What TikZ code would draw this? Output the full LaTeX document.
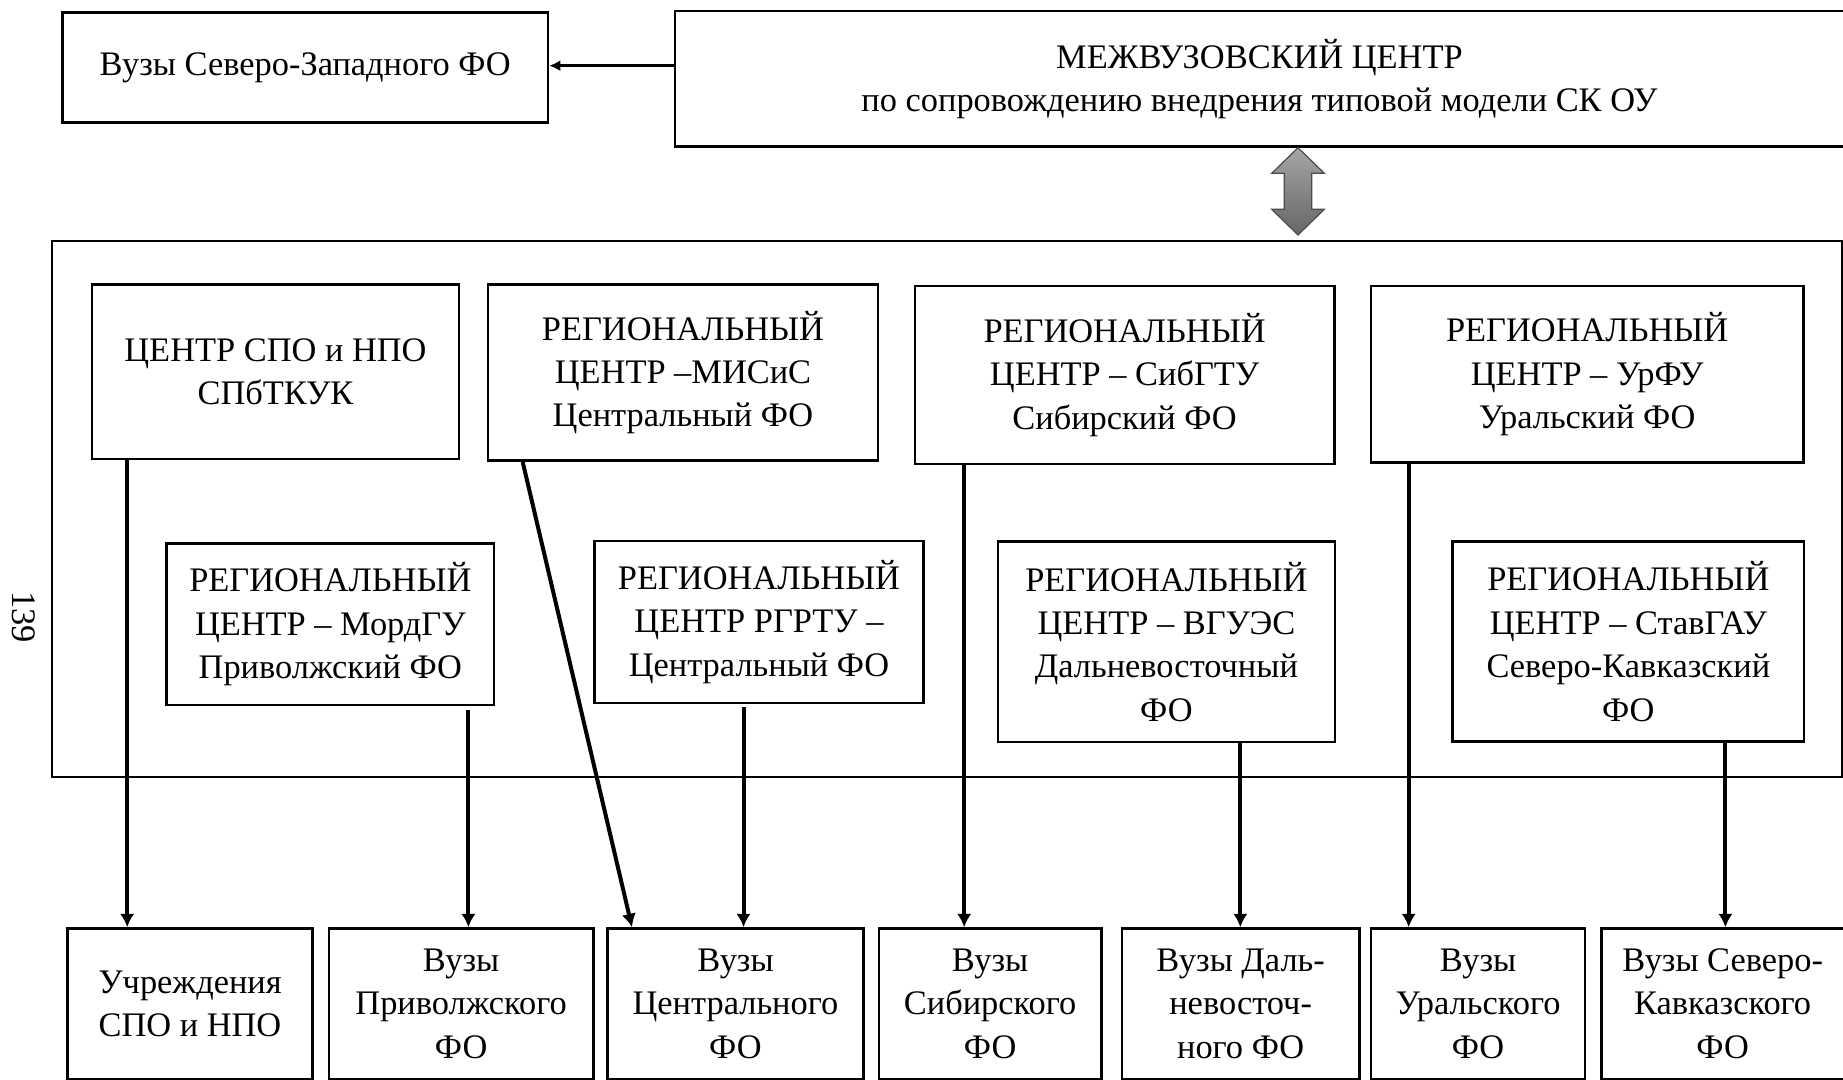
\documentclass[tikz,border=0pt]{standalone}
\usepackage{fontspec}
\setmainfont{Liberation Serif}
\usetikzlibrary{arrows.meta,calc}
\begin{document}
\begin{tikzpicture}[x=0.5pt,y=-0.5pt,
  sz/.style 2 args={minimum width=#1*0.5pt, minimum height=#2*0.5pt},
  txt/.style={font=\fontsize{17.2}{21.7}\selectfont},
  box/.style={draw, line width=1.3pt, align=center, inner sep=0pt, txt},
  conn/.style={line width=2pt, -{Latex[length=6.7pt,width=7.2pt]}},
  thinconn/.style={line width=1.4pt, -{Latex[length=5.5pt,width=5.5pt]}},
  darr/.style={draw=black!70, line width=0.6pt, top color=black!35, bottom color=black!60, line join=miter}]
\useasboundingbox (0,0) rectangle (1843,1080);
% outer frame
\node[draw, line width=1pt, sz={1790}{535.5}, inner sep=0pt] (outer) at (947,508.75) {};
% top
\node[box, sz={485.5}{110}] (nw) at (305.25,67.7) {Вузы Северо-Западного ФО};
\node[box, sz={1169}{135.7}] (mc) at (1259.5,78.85) {МЕЖВУЗОВСКИЙ ЦЕНТР\\по сопровождению внедрения типовой модели СК ОУ};
% regional centres, upper row
\node[box, sz={367}{174.4}] (spo) at (275.5,371.8) {ЦЕНТР СПО и НПО\\СПбТКУК};
\node[box, sz={390}{176.1}] (misis) at (683,372.65) {РЕГИОНАЛЬНЫЙ\\ЦЕНТР –МИСиС\\Центральный ФО};
\node[box, sz={419.2}{178}] (sib) at (1124.6,375) {РЕГИОНАЛЬНЫЙ\\ЦЕНТР – СибГТУ\\Сибирский ФО};
\node[box, sz={432.3}{176.3}] (urfu) at (1587.15,374.15) {РЕГИОНАЛЬНЫЙ\\ЦЕНТР – УрФУ\\Уральский ФО};
% lower row
\node[box, sz={327.3}{161.4}] (mord) at (330.35,624.3) {РЕГИОНАЛЬНЫЙ\\ЦЕНТР – МордГУ\\Приволжский ФО};
\node[box, sz={329.1}{162}] (rgrtu) at (759.05,622) {РЕГИОНАЛЬНЫЙ\\ЦЕНТР РГРТУ –\\Центральный ФО};
\node[box, sz={336.8}{200}] (vgues) at (1166.4,641.8) {РЕГИОНАЛЬНЫЙ\\ЦЕНТР – ВГУЭС\\Дальневосточный\\ФО};
\node[box, sz={351.3}{199.6}] (stav) at (1628.35,641.5) {РЕГИОНАЛЬНЫЙ\\ЦЕНТР – СтавГАУ\\Северо-Кавказский\\ФО};
% bottom row
\node[box, sz={245.4}{150.5}] (b1) at (190,1003.75) {Учреждения\\СПО и НПО};
\node[box, sz={264.3}{150.5}] (b2) at (461.15,1003.75) {Вузы\\Приволжского\\ФО};
\node[box, sz={256.3}{150.5}] (b3) at (735.45,1003.75) {Вузы\\Центрального\\ФО};
\node[box, sz={222.7}{150.5}] (b4) at (990.15,1003.75) {Вузы\\Сибирского\\ФО};
\node[box, sz={237.3}{150.5}] (b5) at (1240.65,1003.75) {Вузы Даль-\\невосточ-\\ного ФО};
\node[box, sz={214}{150.5}] (b6) at (1478,1003.75) {Вузы\\Уральского\\ФО};
\node[box, sz={242.7}{150.5}] (b7) at (1722.65,1003.75) {Вузы Северо-\\Кавказского\\ФО};
% page number
\node[rotate=-90, txt, inner sep=0pt] (pg) at (24,617) {139};
% arrow to NW
\coordinate (nwa) at ($(nw.east)+(0,-2)$);
\draw[thinconn] (mc.west |- nwa) -- (nwa);
% double arrow
\draw[darr] (1298,147.7) -- (1324.3,173.3) -- (1311.7,173.3) -- (1311.7,209.3) -- (1324.3,209.3)
  -- (1298,235) -- (1271.7,209.3) -- (1284.3,209.3) -- (1284.3,173.3) -- (1271.7,173.3) -- cycle;
% connectors
\coordinate (s1) at ($(spo.south west)+(36.5,0)$);
\coordinate (s2) at ($(misis.south west)+(36,0)$);
\coordinate (e2) at ($(b3.north west)+(26,0)$);
\coordinate (s3) at ($(mord.south west)+(303,3.5)$);
\coordinate (s4) at ($(rgrtu.south west)+(150.3,2.5)$);
\coordinate (s5) at ($(sib.south west)+(50.5,0)$);
\coordinate (s6) at ($(vgues.south west)+(243.6,0)$);
\coordinate (s7) at ($(urfu.south west)+(39,0)$);
\coordinate (s8) at ($(stav.south west)+(274,0)$);
\draw[conn] (s1) -- (s1 |- b1.north);
\draw[conn] (s2) -- (e2);
\draw[conn] (s3) -- (s3 |- b2.north);
\draw[conn] (s4) -- (s4 |- b3.north);
\draw[conn] (s5) -- (s5 |- b4.north);
\draw[conn] (s6) -- (s6 |- b5.north);
\draw[conn] (s7) -- (s7 |- b6.north);
\draw[conn] (s8) -- (s8 |- b7.north);
\end{tikzpicture}
\end{document}
